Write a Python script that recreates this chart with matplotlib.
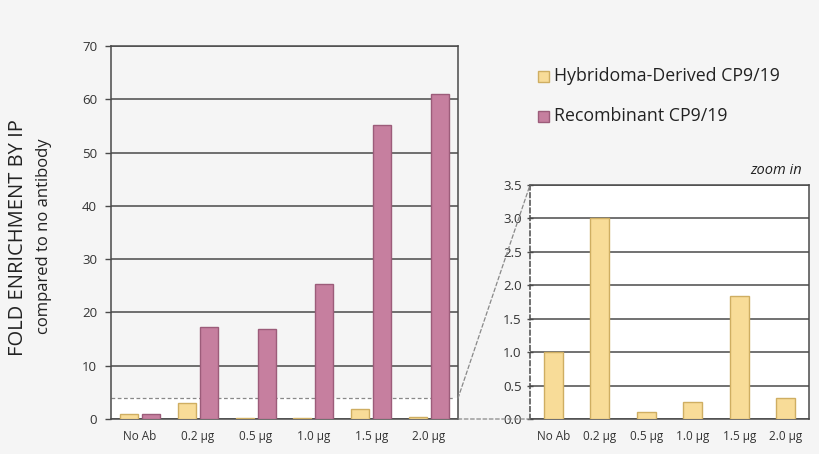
import matplotlib
matplotlib.use("Agg")
import matplotlib.pyplot as plt
from matplotlib.patches import ConnectionPatch, Rectangle
import numpy as np

plt.rcParams["font.family"] = ["Open Sans", "DejaVu Sans"]

doses = ["No Ab", "0.2 µg", "0.5 µg", "1.0 µg", "1.5 µg", "2.0 µg"]
hybridoma = [1.0, 3.0, 0.1, 0.25, 1.84, 0.32]
recombinant = [1.0, 17.2, 16.9, 25.4, 55.1, 61.0]
zoom_top = 3.9

BG = "#f5f5f5"
YEL, YEL_E = "#f8dc98", "#cfae62"
PUR, PUR_E = "#c67f9f", "#9c5c7a"
GRID = "#4a4a4a"
W, H = 820, 454

fig = plt.figure(figsize=(8.2, 4.54), dpi=100, facecolor=BG)
ax1 = fig.add_axes([111 / W, 35 / H, 347 / W, 373 / H], facecolor=BG)
ax2 = fig.add_axes([530 / W, 35 / H, 279 / W, 234 / H], facecolor="white")

x = np.arange(len(doses))

# main panel
ax1.add_patch(Rectangle((-0.5, 0), 6, zoom_top, facecolor="white", edgecolor="none", zorder=0))
ax1.plot([-0.5, 5.42], [zoom_top, zoom_top], ls=(0, (3, 2)), color="#888888", lw=0.9, zorder=1)
ax1.bar(x - 0.19, hybridoma, 0.31, color=YEL, edgecolor=YEL_E, lw=1, zorder=3)
ax1.bar(x + 0.19, recombinant, 0.31, color=PUR, edgecolor=PUR_E, lw=1, zorder=3)
ax1.set_xlim(-0.5, 5.5)
ax1.set_ylim(0, 70)
ax1.set_yticks(range(0, 71, 10))
ax1.yaxis.grid(True, color=GRID, lw=1.1)
ax1.set_axisbelow(True)
ax1.set_xticks(x)
ax1.set_xticklabels(doses)
ax1.tick_params(axis="x", length=0, pad=8, labelsize=8.5, colors="#333333")
ax1.tick_params(axis="y", length=4, width=1, color=GRID, labelsize=9.5, colors="#333333", pad=6)
for sp in ax1.spines.values():
    sp.set_color(GRID)
    sp.set_linewidth(1.1)

fig.text(18 / W, (H - 238) / H, "FOLD ENRICHMENT BY IP", rotation=90, fontsize=14.5,
         ha="center", va="center", color="#222222")
fig.text(44 / W, (H - 236) / H, "compared to no antibody", rotation=90, fontsize=12,
         ha="center", va="center", color="#222222")

# zoom panel
ax2.bar(x, hybridoma, 0.415, color=YEL, edgecolor=YEL_E, lw=1, zorder=3)
ax2.set_xlim(-0.5, 5.5)
ax2.set_ylim(0, 3.5)
ax2.set_yticks(np.arange(0, 3.51, 0.5))
ax2.set_yticklabels([f"{v:.1f}" for v in np.arange(0, 3.51, 0.5)])
ax2.yaxis.grid(True, color=GRID, lw=1.1)
ax2.set_axisbelow(True)
ax2.set_xticks(x)
ax2.set_xticklabels(doses)
ax2.tick_params(axis="x", length=0, pad=8, labelsize=8.5, colors="#333333")
ax2.tick_params(axis="y", length=4, width=1, direction="inout", color=GRID,
                labelsize=9.5, colors="#333333", pad=4)
for sp in ax2.spines.values():
    sp.set_color(GRID)
    sp.set_linewidth(1.1)
ax2.spines["left"].set_linestyle((0, (3, 2)))
ax2.text(0.975, 1.03, "zoom in", transform=ax2.transAxes, ha="right", va="bottom",
         fontsize=10.5, style="italic", color="#222222")

for y1, y2 in [(zoom_top, 3.5), (0, 0)]:
    con = ConnectionPatch(xyA=(5.5, y1), coordsA=ax1.transData,
                          xyB=(-0.5, y2), coordsB=ax2.transData,
                          ls=(0, (3, 2)), color="#888888", lw=0.9)
    fig.add_artist(con)

# legend
for i, (lab, fc, ec) in enumerate([("Hybridoma-Derived CP9/19", YEL, YEL_E),
                                   ("Recombinant CP9/19", PUR, PUR_E)]):
    yy = 76 + 40 * i
    fig.patches.append(Rectangle((538 / W, (H - yy - 6) / H), 11 / W, 11 / H,
                                 transform=fig.transFigure, facecolor=fc,
                                 edgecolor=ec, lw=1))
    fig.text(554 / W, (H - yy) / H, lab, fontsize=12.8, va="center", ha="left",
             color="#222222")

fig.savefig("out.png", dpi=100, facecolor=BG)
